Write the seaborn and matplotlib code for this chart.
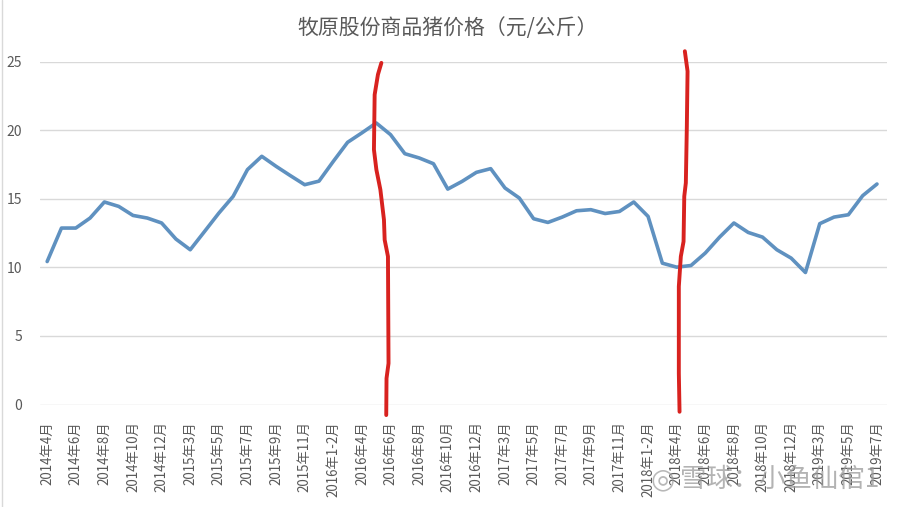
import matplotlib
matplotlib.use("Agg")
import matplotlib.pyplot as plt
import seaborn as sns
import pandas as pd
from matplotlib.lines import Line2D

# ---------------- data ----------------
months = [
    "2014年4月", "2014年5月", "2014年6月", "2014年7月", "2014年8月", "2014年9月",
    "2014年10月", "2014年11月", "2014年12月",
    "2015年1-2月", "2015年3月", "2015年4月", "2015年5月", "2015年6月", "2015年7月",
    "2015年8月", "2015年9月", "2015年10月", "2015年11月", "2015年12月",
    "2016年1-2月", "2016年3月", "2016年4月", "2016年5月", "2016年6月", "2016年7月",
    "2016年8月", "2016年9月", "2016年10月", "2016年11月", "2016年12月",
    "2017年1-2月", "2017年3月", "2017年4月", "2017年5月", "2017年6月", "2017年7月",
    "2017年8月", "2017年9月", "2017年10月", "2017年11月", "2017年12月",
    "2018年1-2月", "2018年3月", "2018年4月", "2018年5月", "2018年6月", "2018年7月",
    "2018年8月", "2018年9月", "2018年10月", "2018年11月", "2018年12月",
    "2019年1-2月", "2019年3月", "2019年4月", "2019年5月", "2019年6月", "2019年7月",
]
price = [
    10.42, 12.86, 12.86, 13.59, 14.76, 14.44, 13.78, 13.59, 13.23,
    12.06, 11.28, 12.61, 13.95, 15.17, 17.12, 18.09, 17.36, 16.68, 16.02, 16.28,
    17.72, 19.11, 19.80, 20.52, 19.67, 18.28, 17.97, 17.55, 15.70, 16.26, 16.92,
    17.19, 15.78, 15.05, 13.54, 13.27, 13.66, 14.12, 14.20, 13.92, 14.07, 14.76,
    13.71, 10.30, 10.01, 10.13, 11.04, 12.20, 13.23, 12.54, 12.20, 11.28, 10.67,
    9.62, 13.18, 13.66, 13.83, 15.22, 16.07,
]
y_ticks = [0, 5, 10, 15, 20, 25]

# hand-drawn red marks (x in category positions, y in price units)
red1_x = [23.36, 23.12, 22.89, 22.84, 23.01, 23.29, 23.54, 23.59, 23.82, 23.86, 23.72, 23.70]
red1_y = [24.90, 24.05, 22.58, 18.58, 17.12, 15.66, 13.47, 12.00, 10.79, 3.00, 1.91, -0.77]
red2_x = [44.57, 44.76, 44.71, 44.64, 44.53, 44.48, 44.29, 44.15, 44.15, 44.20]
red2_y = [25.75, 24.29, 20.28, 16.15, 15.17, 11.88, 10.79, 8.60, 2.28, -0.53]

title = "牧原股份商品猪价格（元/公斤）"
watermark = "雪球：小鱼仙倌1"

# ---------------- style ----------------
sns.set_theme(style="white")
plt.rcParams["font.family"] = ["Noto Sans CJK SC", "DejaVu Sans"]

W, H = 901, 507
fig = plt.figure(figsize=(W / 100, H / 100), dpi=100)
fig.patch.set_facecolor("white")
ax = fig.add_axes([40 / W, (H - 404.5) / H, (887 - 40) / W, (404.5 - 61.5) / H])

df = pd.DataFrame({"pos": range(len(months)), "price": price, "month": months})
sns.lineplot(data=df, x="pos", y="price", ax=ax, color="#5f91c0", linewidth=2.6,
             solid_joinstyle="round", solid_capstyle="round", zorder=3)

ax.plot(red1_x, red1_y, color="#d8221f", linewidth=2.8, clip_on=False, zorder=4,
        solid_capstyle="round")
ax.plot(red2_x, red2_y, color="#d8221f", linewidth=2.8, clip_on=False, zorder=4,
        solid_capstyle="round")

ax.set_xlim(-0.5, len(months) - 0.3)
ax.set_ylim(0, 25)
ax.set_yticks(y_ticks)
ax.set_yticklabels([str(v) for v in y_ticks])
tick_pos = list(range(0, len(months), 2))
ax.set_xticks(tick_pos)
ax.set_xticklabels([months[i] for i in tick_pos], rotation=90, ha="center", va="top")

ax.grid(axis="y", color="#d9d9d9", linewidth=1.0)
ax.grid(axis="x", visible=False)
for s in ax.spines.values():
    s.set_visible(False)
ax.tick_params(axis="y", length=0, pad=13, labelsize=10, labelcolor="#595959")
ax.tick_params(axis="x", length=0, pad=12, labelsize=9.6, labelcolor="#595959")
ax.set_xlabel("")
ax.set_ylabel("")

fig.text(448 / W, 1 - 28 / H, title, ha="center", va="center",
         fontsize=15, color="#595959")

# watermark
fig.text(680 / W, 1 - 479 / H, watermark, ha="left", va="center",
         fontsize=19, color="#9a9a9a", alpha=0.75, zorder=10)
fig.text(663 / W, 1 - 479 / H, "◎", ha="center", va="center",
         fontsize=20, color="#9a9a9a", alpha=0.7, family=["DejaVu Sans"], zorder=10)

# chart border (left edge)
fig.add_artist(Line2D([2 / W, 2 / W], [0, 1], color="#d9d9d9", linewidth=1.0))

fig.savefig("out.png", dpi=100, facecolor="white")
